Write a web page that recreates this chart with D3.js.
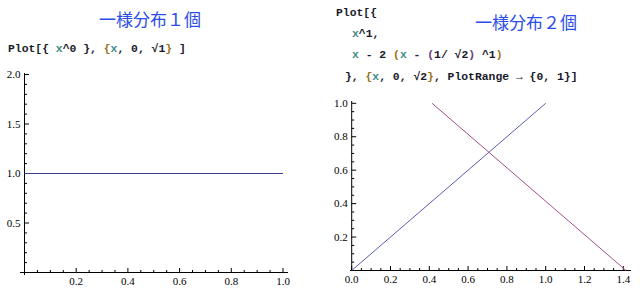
<!DOCTYPE html>
<html><head><meta charset="utf-8">
<script src="https://cdn.jsdelivr.net/npm/d3@7"></script>
<style>
html,body{margin:0;padding:0;background:#fff;}
svg{display:block;}
.code{font-family:"Liberation Mono",monospace;font-weight:bold;font-size:11.4px;}
.tick text{font-family:"Liberation Serif",serif;font-size:11px;}
</style></head>
<body>
<svg id="c" width="640" height="290"></svg>
<script>
// ---- data ----
const titles = ["一様分布１個", "一様分布２個"];
// left plot: x^0 on [0, 1]
const leftX = [0, 1];
const leftY = [1, 1];
// right plot: x^1 and sqrt(2) - x on [0, sqrt2], PlotRange {0,1}
const rightX1 = [0, 1];
const rightY1 = [0, 1];
const rightX2 = [0.4142, 1.4142];
const rightY2 = [1, 0];
const leftXTicks = [0.2, 0.4, 0.6, 0.8, 1.0];
const leftYTicks = [0.5, 1.0, 1.5, 2.0];
const rightXTicks = [0.0, 0.2, 0.4, 0.6, 0.8, 1.0, 1.2, 1.4];
const rightYTicks = [0.2, 0.4, 0.6, 0.8, 1.0];

const svg = d3.select("#c");
const C = {x:"#3f8a8a", k:"#1a1a2a", b:"#9a7318", p:"#6a3d7a"};

// titles
svg.append("text").attr("x",150).attr("y",26).attr("text-anchor","middle")
  .attr("font-family","'Noto Sans CJK JP',sans-serif").attr("font-size",17).attr("fill","#2b4de8").text(titles[0]);
svg.append("text").attr("x",526).attr("y",29).attr("text-anchor","middle")
  .attr("font-family","'Noto Sans CJK JP',sans-serif").attr("font-size",17).attr("fill","#2b4de8").text(titles[1]);

function codeLine(x, y, parts){
  const t = svg.append("text").attr("class","code").attr("x",x).attr("y",y).attr("xml:space","preserve");
  parts.forEach(([s,c]) => t.append("tspan").attr("fill",C[c]).text(s));
}
codeLine(8, 52, [["Plot","k"],["[","k"],["{ ","k"],["x","x"],["^0 ","k"],["}","k"],[", ","k"],["{","b"],["x","x"],[", 0, √1","k"],["}","b"],[" ]","k"]]);
codeLine(336, 16, [["Plot","k"],["[","k"],["{","k"]]);
codeLine(352, 37, [["x","x"],["^1,","k"]]);
codeLine(352, 58, [["x","x"],[" - 2 ","k"],["(","b"],["x","x"],[" - ","k"],["(","p"],["1/ √2","k"],[")","p"],[" ^1","k"],[")","b"]]);
codeLine(345, 80, [["}","k"],[", ","k"],["{","b"],["x","x"],[", 0, √2","k"],["}","b"],[", PlotRange → {0, 1}","k"],["]","k"]]);

function drawAxes(g, x, y, xt, yt, xMinor, yMinor, xExt, yExt){
  const x0 = x(0), y0 = y(0);
  g.append("line").attr("x1",xExt[0]).attr("x2",xExt[1]).attr("y1",y0).attr("y2",y0).attr("stroke","#000");
  g.append("line").attr("x1",x0).attr("x2",x0).attr("y1",yExt[0]).attr("y2",yExt[1]).attr("stroke","#000");
  xMinor.forEach(v => g.append("line").attr("x1",x(v)).attr("x2",x(v)).attr("y1",y0).attr("y2",y0-2.5).attr("stroke","#000"));
  yMinor.forEach(v => g.append("line").attr("y1",y(v)).attr("y2",y(v)).attr("x1",x0).attr("x2",x0+2.5).attr("stroke","#000"));
  const gx = g.append("g").attr("class","tick");
  xt.forEach(v => {
    gx.append("line").attr("x1",x(v)).attr("x2",x(v)).attr("y1",y0).attr("y2",y0-4.5).attr("stroke","#000");
    gx.append("text").attr("x",x(v)).attr("y",y0+12).attr("text-anchor","middle").text(v.toFixed(1));
  });
  const gy = g.append("g").attr("class","tick");
  yt.forEach(v => {
    gy.append("line").attr("y1",y(v)).attr("y2",y(v)).attr("x1",x0).attr("x2",x0+4.5).attr("stroke","#000");
    gy.append("text").attr("x",x0-4).attr("y",y(v)+3.5).attr("text-anchor","end").text(v.toFixed(1));
  });
}

// left plot
const xL = d3.scaleLinear().domain([0,1]).range([24.5,283]);
const yL = d3.scaleLinear().domain([0,2]).range([272.5,74.5]);
const gL = svg.append("g");
const minorL = d3.range(1,20).map(i=>i*0.05).filter(v=>Math.abs(v*5-Math.round(v*5))>1e-6);
const minorLY = d3.range(1,20).map(i=>i*0.1).filter(v=>Math.abs(v*2-Math.round(v*2))>1e-6);
drawAxes(gL, xL, yL, leftXTicks, leftYTicks, minorL, minorLY, [20,288], [275,73]);
const lineL = d3.line().x(d=>xL(d[0])).y(d=>yL(d[1]));
gL.append("path").attr("d", lineL(d3.zip(leftX,leftY))).attr("fill","none").attr("stroke","#3d3d8f").attr("stroke-width",1);

// right plot
const xR = d3.scaleLinear().domain([0,1.4]).range([351.7,623.3]);
const yR = d3.scaleLinear().domain([0,1]).range([270.5,103.3]);
const gR = svg.append("g");
const minorRX = d3.range(1,29).map(i=>i*0.05).filter(v=>Math.abs(v*5-Math.round(v*5))>1e-6);
const minorRY = d3.range(1,20).map(i=>i*0.05).filter(v=>Math.abs(v*5-Math.round(v*5))>1e-6);
drawAxes(gR, xR, yR, rightXTicks, rightYTicks, minorRX, minorRY, [350,631], [271,101]);
const lineR = d3.line().x(d=>xR(d[0])).y(d=>yR(d[1]));
gR.append("path").attr("d", lineR(d3.zip(rightX1,rightY1))).attr("fill","none").attr("stroke","#5a5ab8").attr("stroke-width",1);
gR.append("path").attr("d", lineR(d3.zip(rightX2,rightY2))).attr("fill","none").attr("stroke","#a3508a").attr("stroke-width",1);
</script>
</body></html>
